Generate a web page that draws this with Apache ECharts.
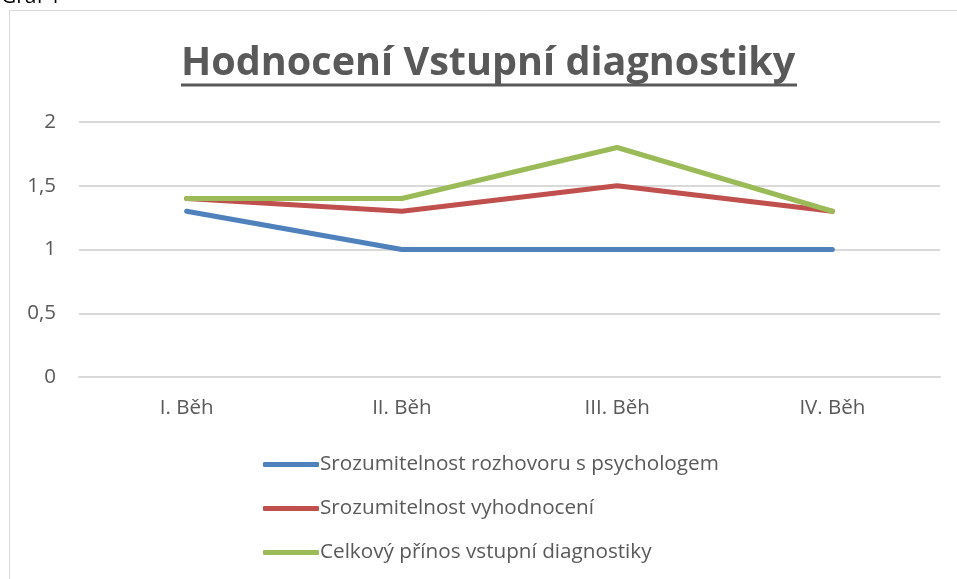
<!DOCTYPE html>
<html><head><meta charset="utf-8">
<script src="https://cdn.jsdelivr.net/npm/echarts@6/dist/echarts.min.js"></script>
<style>html,body{margin:0;padding:0;background:#fff}#c{width:957px;height:579px}</style>
</head><body><div id="c"></div>
<script>
const categories = ['I. Běh', 'II. Běh', 'III. Běh', 'IV. Běh'];
const seriesNames = ['Srozumitelnost rozhovoru s psychologem', 'Srozumitelnost vyhodnocení', 'Celkový přínos vstupní diagnostiky'];
const rozhovor = [1.3, 1, 1, 1];
const vyhodnoceni = [1.4, 1.3, 1.5, 1.3];
const prinos = [1.4, 1.4, 1.8, 1.3];
const colors = ['#4F81BD', '#C0504D', '#9BBB59'];
const FONT = 'Open Sans';
const chart = echarts.init(document.getElementById('c'));
const mk = (name, data, c) => ({name, type: 'line', data, symbol: 'none', lineStyle: {width: 5, color: c, cap: 'round', join: 'round'}, itemStyle: {color: c}, animation: false});
chart.setOption({
  animation: false,
  textStyle: {fontFamily: FONT},
  title: {text: 'Hodnocení Vstupní diagnostiky', left: 176, top: 39,
    textStyle: {fontFamily: FONT, fontSize: 39.6, fontWeight: 'bold', color: '#595959'}},
  graphic: [
    {type: 'rect', shape: {x: 9.5, y: 10.5, width: 1000, height: 700}, style: {fill: 'none', stroke: '#d9d9d9', lineWidth: 1}, silent: true},
    {type: 'text', x: 1, y: -13, style: {text: 'Graf 1', fontFamily: FONT, fontSize: 21, fill: '#000', textVerticalAlign: 'top'}},
    {type: 'line', shape: {x1: 181, y1: 85, x2: 797, y2: 85}, style: {stroke: '#595959', lineWidth: 3}}
  ],
  legend: {orient: 'vertical', left: 258, top: 449, itemGap: 23, itemWidth: 56, itemHeight: 5,
    icon: 'roundRect',
    textStyle: {fontFamily: FONT, fontSize: 20.7, color: '#595959', padding: [0, 0, 0, -4]},
    data: seriesNames},
  grid: {left: 79, right: 17, top: 122, bottom: 202},
  xAxis: {type: 'category', data: categories, boundaryGap: true,
    axisLine: {show: true, lineStyle: {color: '#d9d9d9', width: 2}}, axisTick: {show: false},
    axisLabel: {color: '#595959', fontSize: 20.5, margin: 21, fontFamily: FONT}},
  yAxis: {type: 'value', min: 0, max: 2, interval: 0.5,
    axisLine: {show: false}, axisTick: {show: false},
    splitLine: {lineStyle: {color: '#d9d9d9', width: 2}},
    axisLabel: {color: '#595959', fontSize: 20.5, margin: 23, fontFamily: FONT,
      formatter: v => String(v).replace('.', ',')}},
  series: [mk(seriesNames[0], rozhovor, colors[0]), mk(seriesNames[1], vyhodnoceni, colors[1]), mk(seriesNames[2], prinos, colors[2])]
});
</script></body></html>
